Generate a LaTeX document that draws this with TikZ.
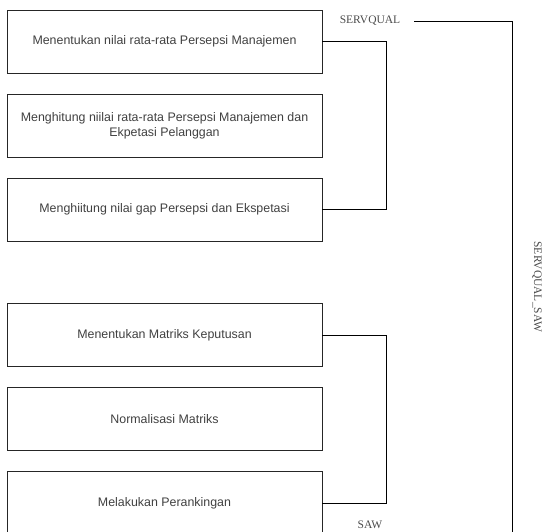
\documentclass[tikz,border=0pt]{standalone}
\usepackage{fontspec}
\setmainfont{Liberation Serif}
\newfontfamily\boxfont{Liberation Sans}
\begin{document}
\begin{tikzpicture}[x=1pt,y=-1pt,
  stepbox/.style={draw=black!85,line width=0.9pt,minimum width=315pt,minimum height=63pt,
    inner sep=0pt,align=center,font=\boxfont\fontsize{12.4}{15}\selectfont,text=black!75},
  lbl/.style={font=\fontsize{11.5}{13}\selectfont,text=black!70,inner sep=0pt},
  conn/.style={draw=black,line width=0.9pt}]
\useasboundingbox (0,0) rectangle (544,532);
\node[stepbox] (b1) at (164.5,41.5) {\raisebox{-2pt}{Menentukan nilai rata-rata Persepsi Manajemen}};
\node[stepbox] (b2) at (164.5,125.5) {Menghitung niilai rata-rata Persepsi Manajemen dan\\Ekpetasi Pelanggan};
\node[stepbox] (b3) at (164.5,209.5) {\raisebox{-2pt}{Menghiitung nilai gap Persepsi dan Ekspetasi}};
\node[stepbox] (b4) at (164.5,335) {\raisebox{-2pt}{Menentukan Matriks Keputusan}};
\node[stepbox] (b5) at (164.5,419) {\raisebox{-2pt}{Normalisasi Matriks}};
\node[stepbox] (b6) at (164.5,503) {\raisebox{-2pt}{Melakukan Perankingan}};
\node[lbl] (sq) at (370,21) {SERVQUAL};
\node[lbl] (saw) at (370,525) {SAW};
\node[lbl,rotate=-90] (ss) at (537,287) {SERVQUAL\_SAW};
\coordinate (c1) at (386,0);
\coordinate (c2) at (512,21);
\coordinate (c3) at (512,540);
\draw[conn] (b1.east) -- (b1.east -| c1) -- (b3.east -| c1) -- (b3.east);
\draw[conn] (b4.east) -- (b4.east -| c1) -- (b6.east -| c1) -- (b6.east);
\draw[conn] ([xshift=14pt]sq.east) -- (c2) -- (c3);
\end{tikzpicture}
\end{document}
